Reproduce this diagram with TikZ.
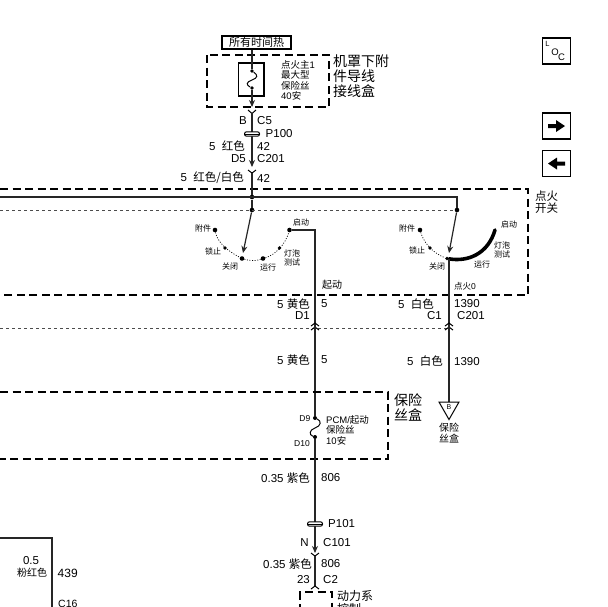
\documentclass[tikz,border=0pt]{standalone}
\usepackage{fontspec}
\setmainfont{Liberation Sans}
\newfontfamily\cjk{Noto Sans CJK SC}
\newcommand{\zh}[1]{{\cjk #1}}
\usetikzlibrary{arrows.meta,calc}
\tikzset{
  lab/.style={font=\fontsize{11.5}{12}\selectfont,inner sep=0pt,text=black},
  labl/.style={lab,anchor=west},
  labr/.style={lab,anchor=east},
  big/.style={font=\fontsize{14}{15}\selectfont,inner sep=0pt,anchor=west,align=left},
  small/.style={font=\fontsize{9.5}{10.5}\selectfont,inner sep=0pt,align=left},
  tiny/.style={font=\fontsize{8}{9}\selectfont,inner sep=0pt,align=center},
  wire/.style={line width=1.2pt,draw=black!85},
  box/.style={draw=black,line width=1.6pt},
  dbox/.style={draw=black,line width=1.5pt,dash pattern=on 8pt off 4.5pt},
  gdash/.style={draw=black!70,line width=.8pt,dash pattern=on 3pt off 3pt},
  dotted arc/.style={draw=black,line width=.7pt,dash pattern=on 1pt off 1.6pt},
  dot/.style={circle,fill=black,inner sep=0pt,minimum size=4.6pt},
  sdot/.style={circle,fill=black,inner sep=0pt,minimum size=3.8pt},
  tip/.style={-{Stealth[length=7pt,width=6pt]}},
  chev/.style={draw=black,line width=1pt},
  iconbox/.style={draw=black,line width=1.8pt,minimum width=28pt,minimum height=26pt,inner sep=0pt},
  pin/.pic={\draw[chev] (-4,3)--(0,0)--(4,3);},
  clamp/.pic={\draw[line width=1pt,fill=white,rounded corners=2pt] (-7.5,-2.2) rectangle (7.5,2.2);
              \draw[line width=1pt] (-7.5,0)--(7.5,0);},
}
\begin{document}
\begin{tikzpicture}[x=1pt,y=-1pt]
\clip (0,0) rectangle (608,606);
\fill[white] (0,0) rectangle (608,606);

% top
\node[draw=black,line width=1.2pt,minimum width=69pt,minimum height=13pt,inner sep=0pt,font=\fontsize{11}{11}\selectfont\cjk] (hot) at (256.5,42.5) {所有时间热};
\draw[dbox] (207,55) rectangle (329,107);
\node[big] (cj) at (333,76.5) {\zh{机罩下附}\\\zh{件导线}\\\zh{接线盒}};
\draw[box] (238.5,63) rectangle (264,96);
\node[sdot] (f1a) at (252,71) {};
\node[sdot] (f1b) at (252,88) {};
\node[small,anchor=west] (f1t) at (281,80.5) {\zh{点火主}1\\\zh{最大型}\\\zh{保险丝}\\40\zh{安}};
\coordinate (a1) at (252,107);
\draw[wire] (hot.south -| f1a) -- (f1a);
\draw[line width=1pt] (f1a) .. controls (258,75) and (258,78) .. (252,80) .. controls (246,82) and (246,85) .. (f1b);
\draw[wire,tip] (f1b) -- (a1);
\coordinate (c5) at (252,113);
\coordinate (d5) at (252,167);
\draw[chev] (248,110)--(252,113.5)--(256,110);
\draw[wire] (c5) -- (252,134);
\path (252,134) pic {clamp};
\draw[wire,tip] (252,136) -- (d5);
\node[labr] (t1) at (247,121) {B};
\node[labl] (t2) at (257,121) {C5};
\node[labl] (t3) at (265.5,134) {P100};
\node[labr] (t4) at (245,146) {5\ \ \zh{红色}};
\node[labl] (t5) at (257,146) {42};
\node[labr] (t6) at (246,159) {D5};
\node[labl] (t7) at (257,159) {C201};
\node[labr] (t8) at (244,178) {5\ \ \zh{红色/白色}};
\node[labl] (t9) at (257,178) {42};
\draw[chev] (248,170)--(252,173)--(256,170);

% ignition switch box
\draw[dbox] (0,189) -- (528,189) -- (528,295) -- (0,295);
\node[big,font=\fontsize{11.5}{12.7}\selectfont] (ig) at (535,202) {\zh{点火}\\\zh{开关}};
\node[dot] (j1) at (252,197) {};
\node[dot] (j2) at (252,210) {};
\node[dot] (j3) at (457,210) {};
\coordinate (l1) at (0,197);
\coordinate (l2) at (0,210);
\draw[wire,line width=1.4pt] (l1) -- (457,197) -- (j3);
\draw[gdash] (l2) -- (j3);
\draw[wire] (252,173) -- (j1) -- (j2);

% left switch
\node[dot] (a) at (215,230) {};
\node[sdot] (b) at (225,248) {};
\node[dot] (c) at (242,258.5) {};
\node[dot] (d) at (263,258.5) {};
\node[sdot] (e) at (279.5,248) {};
\node[dot] (g) at (289.5,230) {};
\draw[dotted arc] (a) .. controls (217,240) and (224,249) .. (c);
\draw[dotted arc] (c) .. controls (250,261) and (256,261) .. (d) .. controls (275,255) and (285,245) .. (g);
\draw[wire,tip] (j2) -- (243,253);
\node[tiny] (a1t) at (203,228) {\zh{附件}};
\node[tiny] (b1t) at (213,251) {\zh{锁止}};
\node[tiny] (c1t) at (230,266) {\zh{关闭}};
\node[tiny] (d1t) at (268,267) {\zh{运行}};
\node[tiny] (e1t) at (292,258) {\zh{灯泡}\\\zh{测试}};
\node[tiny] (g1t) at (301,222) {\zh{启动}};
\node[small,font=\fontsize{10}{11}\selectfont] (qd) at (332,285) {\zh{起动}};
\coordinate (w1) at (315,325);
\draw[wire] (g) -- (315,230) -- (w1);

% right switch
\node[dot] (a2) at (420,230) {};
\node[sdot] (b2) at (430,248) {};
\node[sdot] (c2) at (447,258.5) {};
\coordinate (g2) at (495,230);
\draw[dotted arc] (a2) .. controls (423,240) and (430,252) .. (c2);
\draw[line width=3.6pt,line cap=round] (c2) .. controls (468,262) and (488,254) .. (g2);
\draw[wire,tip] (j3) -- (449,253);
\node[tiny] (a2t) at (407,228) {\zh{附件}};
\node[tiny] (b2t) at (417,250) {\zh{锁止}};
\node[tiny] (c2t) at (437,266) {\zh{关闭}};
\node[tiny] (d2t) at (482,264) {\zh{运行}};
\node[tiny] (e2t) at (502,250) {\zh{灯泡}\\\zh{测试}};
\node[tiny] (g2t) at (509,224) {\zh{启动}};
\node[tiny,font=\fontsize{8.5}{9}\selectfont] (ho) at (465,286) {\zh{点火}0};
\coordinate (w2) at (449,325);
\draw[wire] (449,259) -- (w2);

% row below switch
\node[labr] (y1) at (310,304) {5 \zh{黄色}};
\node[labl] (y2) at (321,304) {5};
\node[labr] (y3) at (310,316) {D1};
\node[labr] (w3) at (434,304) {5\ \ \zh{白色}};
\node[labl] (w4) at (454,304) {1390};
\node[labr] (w5) at (442,316) {C1};
\node[labl] (w6) at (457,316) {C201};
\draw[gdash] (0,328) -- (449,328);
\foreach \xx in {315,449}{
  \path (\xx,323) pic {pin};
  \path (\xx,327) pic {pin};
}

% lower wires
\node[dot,minimum size=4pt] (d9) at (315,418) {};
\node[dot,minimum size=4pt] (d10) at (315,437) {};
\node[lab,font=\fontsize{8.5}{9}\selectfont,anchor=east] (d9t) at (310.5,418.5) {D9};
\node[lab,font=\fontsize{8.5}{9}\selectfont,anchor=east] (d10t) at (310,444) {D10};
\draw[wire] (w1) -- (d9);
\draw[line width=1pt] (d9) .. controls (322,421) and (321,426) .. (315,428) .. controls (309,430) and (309,435) .. (d10);
\draw[dbox] (0,392) -- (388,392) -- (388,459) -- (0,459);
\node[small,anchor=west] (pcm) at (326,430) {PCM/\zh{起动}\\\zh{保险丝}\\10\zh{安}};
\node[big] (bx) at (394,407.5) {\zh{保险}\\\zh{丝盒}};
\node[labr] (y4) at (310,360) {5 \zh{黄色}};
\node[labl] (y5) at (321,360) {5};
\node[labr] (w7) at (443,361) {5\ \ \zh{白色}};
\node[labl] (w8) at (454,362) {1390};

% triangle
\coordinate (tri) at (449,402);
\draw[wire] (w2) -- (tri);
\draw[line width=1pt,fill=white] (439,402) -- (459,402) -- (449,419.5) -- cycle;
\node[lab,font=\fontsize{7}{8}\selectfont] (tb) at (449,407.5) {B};
\node[tiny,font=\fontsize{10}{10.5}\selectfont] (trit) at (449,433) {\zh{保险}\\\zh{丝盒}};

% bottom
\coordinate (p101) at (315,524);
\coordinate (n1) at (315,553);
\draw[wire] (d10) -- (p101);
\path (p101) pic {clamp};
\draw[wire,tip] (315,526) -- (n1);
\node[labr] (v1) at (310,478) {0.35 \zh{紫色}};
\node[labl] (v2) at (321,478) {806};
\node[labl] (v3) at (328,524) {P101};
\node[labr] (v4) at (309,543) {N};
\node[labl] (v5) at (323,543) {C101};
\draw[chev] (311,553)--(315,556)--(319,553);
\node[labr] (v6) at (312,564) {0.35 \zh{紫色}};
\node[labl] (v7) at (321,564) {806};
\node[labr] (v8) at (310,580) {23};
\node[labl] (v9) at (323,580) {C2};
\coordinate (c2e) at (315,586);
\draw[wire] (315,556) -- (c2e);
\path (315,586) pic {pin};
\draw[dbox] (300,612) -- (300,592) -- (332,592) -- (332,612);
\node[big,font=\fontsize{12}{13}\selectfont,anchor=north west] (pw) at (337,590) {\zh{动力系}\\\zh{控制}};

% left lower
\coordinate (q0) at (0,538);
\coordinate (q1) at (52,538);
\coordinate (q2) at (52,612);
\draw[wire] (q0) -- (q1) -- (q2);
\node[lab] (r1) at (31,561) {0.5};
\node[lab,font=\fontsize{10}{10}\selectfont] (r2) at (32,573) {\zh{粉红色}};
\node[labl,font=\fontsize{12}{12}\selectfont] (r3) at (57.5,573.5) {439};
\node[labl,font=\fontsize{10.5}{10}\selectfont] (r4) at (58,604) {C16};

% icons
\node[iconbox] (loc) at (556.5,51) {};
\node[lab,font=\fontsize{7.5}{8}\selectfont] (lL) at (547.5,43.5) {L};
\node[lab,font=\fontsize{9.5}{10}\selectfont] (lO) at (555,52) {O};
\node[lab,font=\fontsize{9.5}{10}\selectfont] (lC) at (561.5,57.5) {C};
\node[iconbox] (fw) at (556.5,126) {};
\node[iconbox] (bk) at (556.5,163.5) {};
\fill (548,124) -- (556,124) -- (556,120) -- (565,126) -- (556,132) -- (556,128) -- (548,128) -- cycle;
\fill (565,161.5) -- (557,161.5) -- (557,157.5) -- (548,163.5) -- (557,169.5) -- (557,165.5) -- (565,165.5) -- cycle;
\end{tikzpicture}
\end{document}
